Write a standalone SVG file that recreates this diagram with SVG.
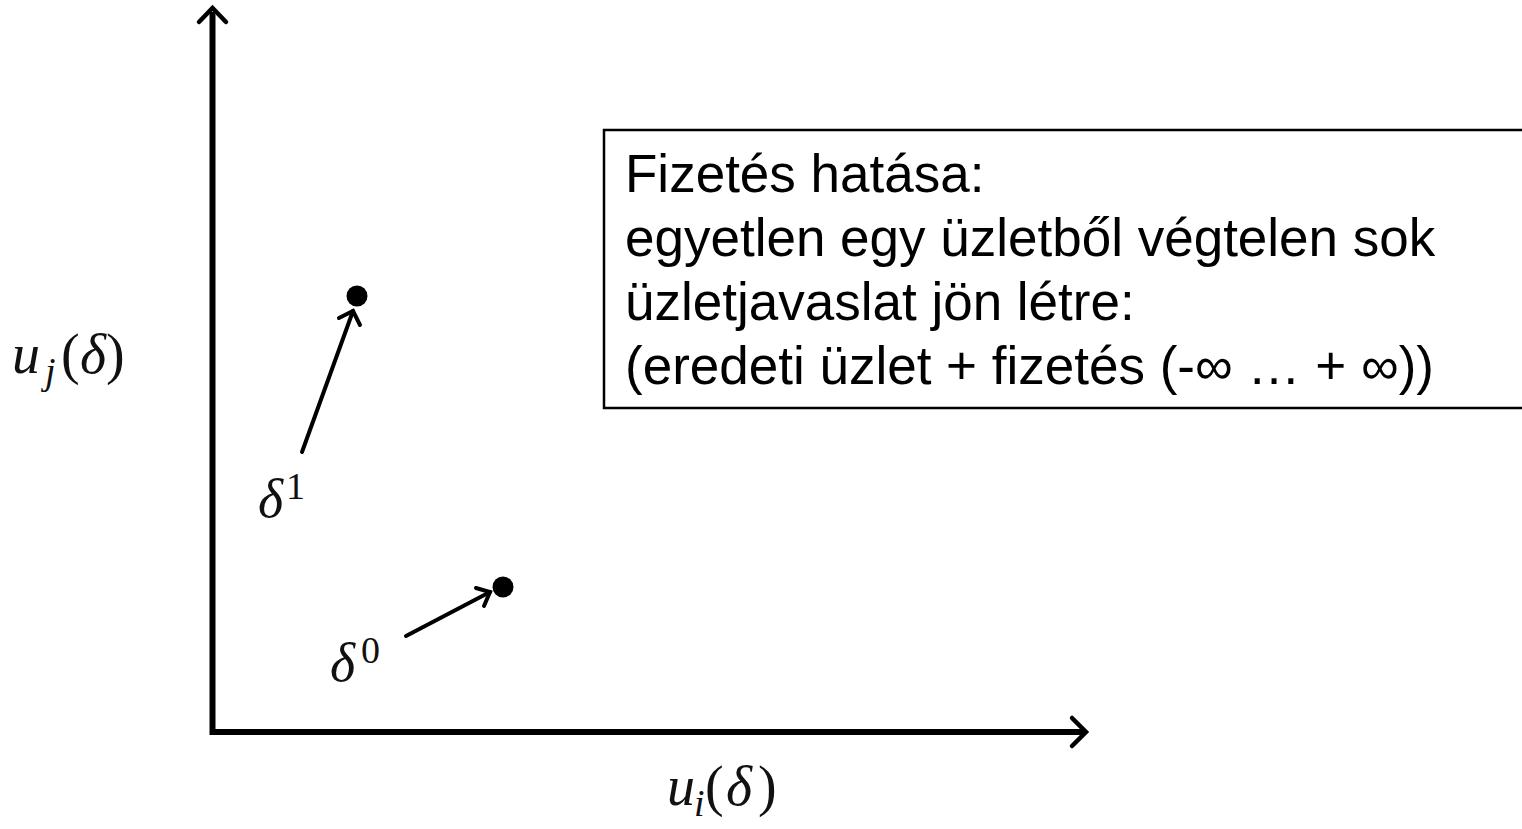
<svg xmlns="http://www.w3.org/2000/svg" width="1522" height="829" viewBox="0 0 1522 829">
<style>
.ax{stroke:#000;stroke-width:6;fill:none;stroke-linecap:butt}
.hd{stroke:#000;stroke-width:4.5;fill:none;stroke-linecap:round;stroke-linejoin:miter}
.ar{stroke:#000;stroke-width:4;fill:none;stroke-linecap:round;stroke-linejoin:miter}
.m{font-family:"Liberation Serif","DejaVu Serif",serif;fill:#111}
.mi{font-style:italic}
.bx{font-family:"Liberation Sans",Arial,sans-serif;font-size:53px;fill:#000}
</style>
<rect width="1522" height="829" fill="#fff"/>
<g id="axes">
<path class="ax" d="M212.5,12 V732 H1083"/>
<path class="hd" d="M199,22 L212.5,8 L226,22"/>
<path class="hd" d="M1072,718 L1086,732 L1072,746"/>
</g>
<g id="connectors">
<path class="ar" d="M302,452 L353,311"/>
<path class="ar" d="M339,318 L353,311 L360,325"/>
<path class="ar" d="M406,636 L490,592"/>
<path class="ar" d="M476,588 L490,592 L484,606"/>
</g>
<g id="delta1">
<circle cx="357" cy="296" r="10.5" fill="#000"/>
<text class="m" font-size="54"><tspan class="mi" x="258" y="517">δ</tspan><tspan font-size="38" x="286" y="499">1</tspan></text>
</g>
<g id="delta0">
<circle cx="503" cy="587" r="10.5" fill="#000"/>
<text class="m" font-size="54"><tspan class="mi" x="330" y="681">δ</tspan><tspan font-size="38" x="361" y="663">0</tspan></text>
</g>
<g id="label-uj">
<text class="m" font-size="56"><tspan class="mi" x="12" y="373">u</tspan><tspan class="mi" font-size="38" x="45" y="384">j</tspan><tspan x="61" y="373">(</tspan><tspan class="mi" x="80" y="373">δ</tspan><tspan x="106" y="373">)</tspan></text>
</g>
<g id="label-ui">
<text class="m" font-size="56"><tspan class="mi" x="667" y="805">u</tspan><tspan class="mi" font-size="38" x="694" y="816">i</tspan><tspan x="705" y="805">(</tspan><tspan class="mi" x="726" y="805">δ</tspan><tspan x="758" y="805">)</tspan></text>
</g>
<g id="note">
<rect x="604" y="130" width="940" height="278" fill="#fff" stroke="#000" stroke-width="2.5"/>
<text class="bx" x="625" y="192">Fizetés hatása:</text>
<text class="bx" x="625" y="256">egyetlen egy üzletből végtelen sok</text>
<text class="bx" x="625" y="320">üzletjavaslat jön létre:</text>
<text class="bx" x="625" y="384">(eredeti üzlet + fizetés (-∞ … + ∞))</text>
</g>
</svg>
